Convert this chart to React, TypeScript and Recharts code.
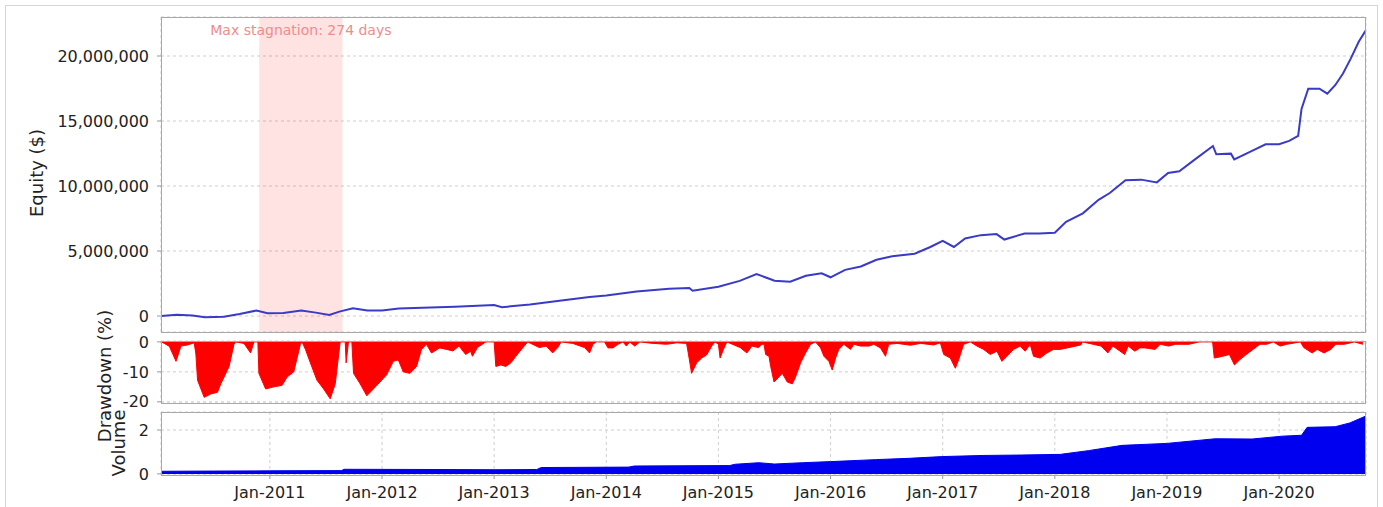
import React from "react";
import {
  ComposedChart,
  Line,
  Area,
  XAxis,
  YAxis,
  CartesianGrid,
  ReferenceArea,
} from "recharts";

// x values are decimal years
const X_START = 2010.029;
const X_END = 2020.775;
const yearTicks = [2011, 2012, 2013, 2014, 2015, 2016, 2017, 2018, 2019, 2020];

const equityTimes = [
  2010.03, 2010.17, 2010.31, 2010.42, 2010.59, 2010.73, 2010.88, 2010.98, 2011.12, 2011.28,
  2011.41, 2011.53, 2011.62, 2011.74, 2011.87, 2012.0, 2012.15, 2012.36, 2012.65, 2013.0,
  2013.07, 2013.32, 2013.6, 2013.85, 2014.0, 2014.27, 2014.56, 2014.74, 2014.77, 2015.0,
  2015.19, 2015.34, 2015.46, 2015.5, 2015.64, 2015.78, 2015.92, 2016.0, 2016.13, 2016.27,
  2016.41, 2016.55, 2016.75, 2016.89, 2017.0, 2017.1, 2017.2, 2017.34, 2017.48, 2017.55,
  2017.73, 2017.86, 2018.0, 2018.1, 2018.25, 2018.39, 2018.49, 2018.63, 2018.77, 2018.91,
  2019.01, 2019.11, 2019.25, 2019.41, 2019.44, 2019.57, 2019.6, 2019.74, 2019.88, 2020.0,
  2020.09, 2020.17, 2020.2, 2020.26, 2020.36, 2020.43, 2020.5, 2020.57, 2020.64, 2020.71,
  2020.775,
];
// equity in millions of $
const equityValues = [
  0.0, 0.1, 0.03, -0.1, -0.05, 0.16, 0.42, 0.21, 0.24, 0.42,
  0.26, 0.08, 0.34, 0.6, 0.42, 0.42, 0.58, 0.63, 0.71, 0.84,
  0.68, 0.89, 1.2, 1.47, 1.57, 1.88, 2.09, 2.15, 1.94, 2.25,
  2.7, 3.22, 2.85, 2.72, 2.64, 3.1, 3.29, 2.98, 3.55, 3.81,
  4.33, 4.59, 4.79, 5.31, 5.78, 5.31, 5.96, 6.22, 6.3, 5.88,
  6.35, 6.35, 6.4, 7.25, 7.9, 8.94, 9.46, 10.44, 10.49, 10.28,
  11.0, 11.14, 12.05, 13.08, 12.44, 12.49, 12.05, 12.62, 13.21, 13.21,
  13.47, 13.86, 15.93, 17.49, 17.49, 17.1, 17.75, 18.65, 19.82, 21.1,
  22.0,
];

const ddTimes = [
  2010.03, 2010.059, 2010.104, 2010.163, 2010.207, 2010.266, 2010.325, 2010.34, 2010.355, 2010.414,
  2010.473, 2010.533, 2010.562, 2010.592, 2010.636, 2010.68, 2010.695, 2010.769, 2010.828, 2010.858,
  2010.893, 2010.902, 2010.962, 2011.036, 2011.109, 2011.154, 2011.213, 2011.272, 2011.287, 2011.317,
  2011.361, 2011.42, 2011.479, 2011.538, 2011.583, 2011.627, 2011.672, 2011.68, 2011.701, 2011.731,
  2011.746, 2011.805, 2011.864, 2011.923, 2011.982, 2012.041, 2012.101, 2012.145, 2012.189, 2012.249,
  2012.308, 2012.352, 2012.396, 2012.441, 2012.515, 2012.574, 2012.633, 2012.687, 2012.746, 2012.791,
  2012.806, 2012.851, 2012.925, 2013.0, 2013.015, 2013.06, 2013.104, 2013.149, 2013.194, 2013.254,
  2013.299, 2013.403, 2013.463, 2013.522, 2013.567, 2013.597, 2013.701, 2013.806, 2013.851, 2013.881,
  2013.91, 2013.985, 2014.015, 2014.06, 2014.104, 2014.149, 2014.179, 2014.209, 2014.254, 2014.299,
  2014.418, 2014.537, 2014.627, 2014.716, 2014.731, 2014.761, 2014.806, 2014.851, 2014.896, 2014.94,
  2014.97, 2015.0, 2015.015, 2015.045, 2015.075, 2015.194, 2015.254, 2015.299, 2015.358, 2015.388,
  2015.407, 2015.421, 2015.451, 2015.466, 2015.496, 2015.54, 2015.57, 2015.614, 2015.659, 2015.688,
  2015.733, 2015.777, 2015.822, 2015.866, 2015.911, 2015.941, 2015.985, 2016.015, 2016.045, 2016.074,
  2016.119, 2016.178, 2016.208, 2016.267, 2016.341, 2016.386, 2016.445, 2016.49, 2016.519, 2016.593,
  2016.712, 2016.801, 2016.92, 2016.979, 2017.009, 2017.068, 2017.113, 2017.142, 2017.187, 2017.246,
  2017.306, 2017.365, 2017.424, 2017.484, 2017.528, 2017.573, 2017.632, 2017.691, 2017.736, 2017.78,
  2017.81, 2017.869, 2017.929, 2017.988, 2018.047, 2018.111, 2018.232, 2018.247, 2018.413, 2018.473,
  2018.518, 2018.623, 2018.654, 2018.714, 2018.759, 2018.804, 2018.895, 2018.94, 2019.015, 2019.075,
  2019.196, 2019.286, 2019.407, 2019.422, 2019.497, 2019.557, 2019.602, 2019.648, 2019.708, 2019.768,
  2019.828, 2019.889, 2019.949, 2020.009, 2020.069, 2020.19, 2020.22, 2020.295, 2020.34, 2020.401,
  2020.461, 2020.506, 2020.581, 2020.672, 2020.747,
];
const ddValues = [
  0, -0.5, -1.5, -6.5, -1.4, -1.0, -0.3, -4.0, -12.8, -18.5,
  -17.4, -16.8, -14.0, -11.7, -8.2, -0.8, 0, -0.5, -3.7, 0,
  0, -10.5, -15.7, -15.0, -14.5, -11.7, -10.0, -0.8, 0, -2.5,
  -7.0, -12.8, -15.7, -19.0, -14.0, 0, 0, -7.0, 0, 0,
  -10.5, -14.0, -18.0, -15.7, -13.4, -11.0, -6.5, -6.0, -10.0, -10.5,
  -8.2, -2.5, -0.8, -3.7, -2.0, -2.5, -3.0, -1.4, -4.2, -3.1,
  -4.8, -1.9, 0, 0, -8.2, -7.7, -8.2, -7.0, -4.8, -2.0,
  0, -1.9, -1.4, -3.7, -1.9, 0, -0.5, -1.9, -3.7, -0.8,
  0, 0, -2.0, -2.0, -0.8, 0, -1.4, 0, -1.4, 0,
  -0.5, -0.8, -0.3, -0.5, -3.7, -10.5, -7.0, -5.4, -4.3, -1.4,
  0, -0.8, -5.4, -2.5, 0, -1.9, -3.7, -1.4, -1.9, -0.8,
  -0.8, -4.2, -4.8, -8.2, -13.4, -11.7, -10.5, -13.4, -14.0, -11.7,
  -7.0, -3.7, -0.8, 0, -2.0, -4.8, -6.5, -9.4, -5.4, -2.5,
  -0.8, -2.5, -0.8, -1.4, -1.4, -0.8, -2.0, -4.8, -0.8, -0.5,
  -1.1, -0.5, -1.0, -0.3, -4.2, -5.4, -8.8, -6.0, -0.8, 0,
  -1.4, -2.5, -4.2, -3.1, -6.5, -4.8, -2.5, -1.4, -3.1, -0.8,
  -4.8, -5.4, -3.7, -2.5, -2.5, -2.0, -1.0, 0, -1.4, -3.7,
  -1.4, -4.2, -1.4, -3.1, -2.0, -2.0, -2.5, -0.8, -1.4, -0.8,
  -0.8, 0, 0, -5.4, -4.8, -4.2, -7.7, -6.0, -4.2, -2.5,
  -0.8, -0.8, 0, -1.4, -0.8, 0, -1.9, -3.7, -2.5, -3.7,
  -2.5, -0.8, -0.8, 0, -0.8,
];

const volTimes = [
  2010.03, 2010.5, 2011.0, 2011.64, 2011.66, 2012.5, 2013.0, 2013.38, 2013.42, 2014.2,
  2014.25, 2015.1, 2015.15, 2015.36, 2015.5, 2015.75, 2016.0, 2016.4, 2016.7, 2017.0,
  2017.36, 2017.7, 2018.05, 2018.3, 2018.6, 2019.0, 2019.43, 2019.76, 2020.03, 2020.2,
  2020.25, 2020.5, 2020.63, 2020.775,
];
const volValues = [
  0.12, 0.13, 0.14, 0.15, 0.21, 0.2, 0.19, 0.2, 0.29, 0.31,
  0.36, 0.38, 0.44, 0.51, 0.45, 0.51, 0.56, 0.65, 0.71, 0.79,
  0.84, 0.86, 0.89, 1.06, 1.3, 1.39, 1.6, 1.59, 1.72, 1.76,
  2.12, 2.15, 2.32, 2.64,
];

const equityData = equityTimes.map((t, i) => ({ t, equity: equityValues[i] * 1e6 }));
const ddData = ddTimes.map((t, i) => ({ t, dd: ddValues[i] }));
const volData = volTimes.map((t, i) => ({ t, vol: volValues[i] }));

const FONT = "'DejaVu Sans', sans-serif";
const tickStyle = { fontSize: 16, fill: "#222", fontFamily: FONT };
const GRID = "#cfcfcf";
const fmtThousands = (v: number) => String(Math.round(v)).replace(/\B(?=(\d{3})+(?!\d))/g, ",");

const PanelBorder = ({ top, height }: { top: number; height: number }) => (
  <div
    style={{
      position: "absolute",
      left: 161,
      top,
      width: 1205,
      height,
      border: "1px solid #a8a8a8",
      boxSizing: "border-box",
      pointerEvents: "none",
    }}
  />
);

const hiddenX = (
  <XAxis
    type="number"
    dataKey="t"
    domain={[X_START, X_END]}
    ticks={yearTicks}
    allowDataOverflow
    tick={false}
    tickLine={false}
    axisLine={false}
    height={0}
  />
);

export default function App() {
  return (
    <div
      style={{
        position: "absolute",
        left: 0,
        top: 0,
        width: 1383,
        height: 507,
        background: "#fff",
        overflow: "hidden",
        fontFamily: FONT,
      }}
    >
      <div
        style={{
          position: "absolute",
          left: 5,
          top: 5,
          width: 1373,
          height: 530,
          border: "1px solid #d6d6d6",
          boxSizing: "border-box",
        }}
      />

      {/* equity */}
      <div style={{ position: "absolute", left: 0, top: 0 }}>
        <ComposedChart width={1383} height={340} data={equityData} margin={{ top: 17, right: 17, bottom: 8, left: 0 }}>
          <CartesianGrid stroke={GRID} strokeDasharray="3 3" />
          {hiddenX}
          <YAxis
            type="number"
            width={161}
            domain={[-1230000, 23000000]}
            ticks={[0, 5000000, 10000000, 15000000, 20000000]}
            interval={0}
            allowDataOverflow
            tickFormatter={fmtThousands}
            tick={tickStyle}
            tickSize={4}
            tickMargin={8}
            tickLine={{ stroke: "#999" }}
            axisLine={false}
          />
          <ReferenceArea
            x1={2010.905}
            x2={2011.648}
            fill="#ff0000"
            fillOpacity={0.11}
            stroke="none"
            label={{
              value: "Max stagnation: 274 days",
              position: "insideTop",
              offset: 8,
              fill: "#f08c8c",
              fontSize: 14,
              fontFamily: FONT,
            }}
          />
          <Line
            type="linear"
            dataKey="equity"
            stroke="#3a3ac8"
            strokeWidth={2}
            dot={false}
            isAnimationActive={false}
          />
        </ComposedChart>
      </div>

      {/* drawdown */}
      <div style={{ position: "absolute", left: 0, top: 326 }}>
        <ComposedChart width={1383} height={92} data={ddData} margin={{ top: 15, right: 17, bottom: 15, left: 0 }}>
          <CartesianGrid stroke={GRID} strokeDasharray="3 3" />
          {hiddenX}
          <YAxis
            type="number"
            width={161}
            domain={[-20.4, 0.3]}
            ticks={[-20, -10, 0]}
            interval={0}
            allowDataOverflow
            tick={tickStyle}
            tickSize={4}
            tickMargin={8}
            tickLine={{ stroke: "#999" }}
            axisLine={false}
          />
          <Area
            type="linear"
            dataKey="dd"
            baseValue={0}
            stroke="#ff0000"
            strokeWidth={1}
            fill="#ff0000"
            fillOpacity={1}
            dot={false}
            isAnimationActive={false}
          />
        </ComposedChart>
      </div>

      {/* volume */}
      <div style={{ position: "absolute", left: 0, top: 407 }}>
        <ComposedChart width={1383} height={100} data={volData} margin={{ top: 5, right: 17, bottom: 12, left: 0 }}>
          <CartesianGrid stroke={GRID} strokeDasharray="3 3" />
          <XAxis
            type="number"
            dataKey="t"
            domain={[X_START, X_END]}
            ticks={yearTicks}
            interval={0}
            allowDataOverflow
            height={20}
            tickFormatter={(v: number) => `Jan-${Math.round(v)}`}
            tick={tickStyle}
            tickSize={4}
            tickMargin={8}
            tickLine={{ stroke: "#999" }}
            axisLine={false}
          />
          <YAxis
            type="number"
            width={161}
            domain={[-0.05, 2.82]}
            ticks={[0, 2]}
            interval={0}
            allowDataOverflow
            tick={tickStyle}
            tickSize={4}
            tickMargin={8}
            tickLine={{ stroke: "#999" }}
            axisLine={false}
          />
          <Area
            type="linear"
            dataKey="vol"
            baseValue={0}
            stroke="#0000f0"
            strokeWidth={1}
            fill="#0000f0"
            fillOpacity={1}
            dot={false}
            isAnimationActive={false}
          />
        </ComposedChart>
      </div>

      <PanelBorder top={17} height={316} />
      <PanelBorder top={341} height={63} />
      <PanelBorder top={412} height={64} />

      <svg
        width={1383}
        height={507}
        style={{ position: "absolute", left: 0, top: 0, pointerEvents: "none" }}
      >
        <g fontFamily={FONT} fontSize={18} fill="#222" textAnchor="middle">
          <text x={43} y={173} transform="rotate(-90 43 173)">Equity ($)</text>
          <text x={111} y={376} transform="rotate(-90 111 376)">Drawdown (%)</text>
          <text x={125} y={443} transform="rotate(-90 125 443)">Volume</text>
        </g>
      </svg>
    </div>
  );
}
